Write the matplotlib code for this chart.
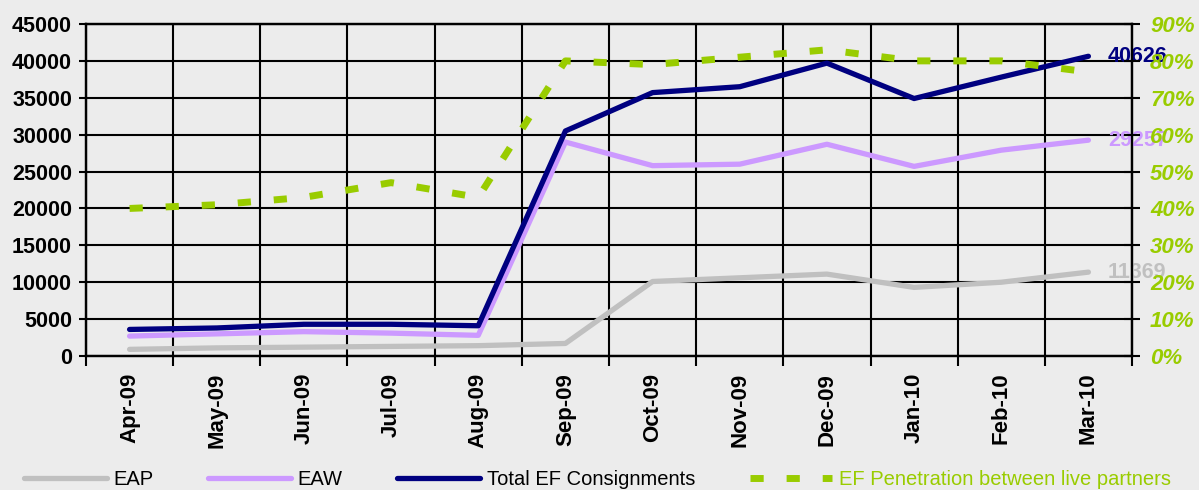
import matplotlib
matplotlib.use("Agg")
import matplotlib.pyplot as plt
import numpy as np
from matplotlib.ticker import FixedLocator, PercentFormatter

months = ["Apr-09", "May-09", "Jun-09", "Jul-09", "Aug-09", "Sep-09",
          "Oct-09", "Nov-09", "Dec-09", "Jan-10", "Feb-10", "Mar-10"]
eap = [900, 1100, 1200, 1300, 1400, 1700, 10100, 10600, 11100, 9300, 10000, 11369]
eaw = [2700, 3000, 3300, 3100, 2800, 29000, 25800, 26000, 28700, 25700, 27900, 29257]
total = [3600, 3800, 4300, 4300, 4100, 30500, 35700, 36500, 39700, 34900, 37800, 40626]
penetration = [0.40, 0.41, 0.43, 0.47, 0.43, 0.80, 0.79, 0.81, 0.83, 0.80, 0.80, 0.77]
left_ticks = list(range(0, 45001, 5000))
right_ticks = [i / 10 for i in range(10)]

c_eap = "#C0C0C0"
c_eaw = "#CC99FF"
c_tot = "#000080"
c_pen = "#99CC00"
bg = "#ECECEC"

plt.rcParams['font.family'] = ['Liberation Sans', 'DejaVu Sans']

fig = plt.figure(figsize=(11.99, 4.90), dpi=100, facecolor=bg)
ax = fig.add_axes([86/1199, 1-356/490, (1132-86)/1199, (356-24)/490])
ax.set_facecolor(bg)

x = np.arange(len(months))
ax.plot(x, eap, color=c_eap, lw=3.8, solid_capstyle='round', solid_joinstyle='round', label="EAP", zorder=3)
ax.plot(x, eaw, color=c_eaw, lw=3.8, solid_capstyle='round', solid_joinstyle='round', label="EAW", zorder=3)
ax.plot(x, total, color=c_tot, lw=3.8, solid_capstyle='round', solid_joinstyle='round', label="Total EF Consignments", zorder=3)

ax.set_xlim(-0.5, len(months) - 0.5)
ax.set_ylim(0, 45000)
ax.set_yticks(left_ticks)
ax.set_yticklabels([str(v) for v in left_ticks], fontsize=15.5, fontweight='bold')
ax.set_xticks(x)
ax.set_xticklabels(months, rotation=90, fontsize=16, fontweight='bold')
ax.xaxis.set_minor_locator(FixedLocator(np.arange(-0.5, len(months), 1.0)))
ax.tick_params(axis='x', which='major', length=0, pad=12)
ax.tick_params(axis='x', which='minor', length=7, width=1.5, direction='out', color='black')
ax.tick_params(axis='y', length=5, width=1.5, direction='out', pad=5)
ax.grid(True, axis='y', which='major', color='black', lw=1.5)
ax.grid(True, axis='x', which='minor', color='black', lw=1.5)
for s in ax.spines.values():
    s.set_color('black')
    s.set_linewidth(1.6)

ax2 = ax.twinx()
ax2.plot(x, penetration, color=c_pen, lw=5, dashes=(1.9, 3.3), dash_capstyle='butt',
         label="EF Penetration between live partners", zorder=3)
ax2.set_ylim(0, 0.9)
ax2.set_yticks(right_ticks)
ax2.yaxis.set_major_formatter(PercentFormatter(1.0, decimals=0))
for t in ax2.get_yticklabels():
    t.set_color(c_pen)
    t.set_fontsize(16)
    t.set_fontweight('bold')
    t.set_fontstyle('italic')
ax2.tick_params(axis='y', length=12, width=1.5, direction='inout', pad=7)
for s in ax2.spines.values():
    s.set_linewidth(1.6)
    s.set_color('black')

# end labels
for vals, col in [(total, c_tot), (eaw, c_eaw), (eap, c_eap)]:
    ax.annotate(str(vals[-1]), xy=(x[-1], vals[-1]), xytext=(14, 0), textcoords='offset points',
                color=col, fontsize=15.5, fontweight='bold', va='center', ha='left', zorder=5,
                annotation_clip=False)

h1, l1 = ax.get_legend_handles_labels()
h2, l2 = ax2.get_legend_handles_labels()
leg = fig.legend(h1 + h2, l1 + l2, loc='lower left', bbox_to_anchor=(0.005, -0.035), ncol=4,
                 frameon=False, handlelength=4.1, columnspacing=2.7, handletextpad=0.35,
                 prop={'size': 14.5})
for t, c in zip(leg.get_texts(), ['black', 'black', 'black', c_pen]):
    t.set_color(c)

fig.savefig("out.png", dpi=100, facecolor=bg)
